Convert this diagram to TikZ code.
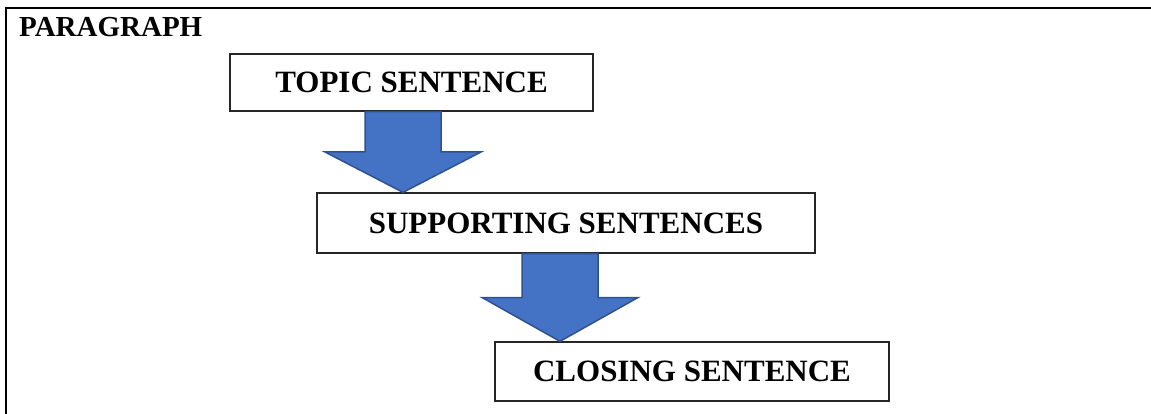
\documentclass[tikz,border=0pt]{standalone}
\usepackage{fontspec}
\setmainfont{Liberation Serif}
\usepackage{tikz}
\usetikzlibrary{calc}

\definecolor{arrowblue}{HTML}{4472C4}
\definecolor{arrowedge}{HTML}{2F528F}

\tikzset{
	sentbox/.style={draw=black!85, line width=1.3pt, inner sep=0pt,
		font=\fontsize{31}{37}\selectfont\bfseries},
	blockarrow/.style={fill=arrowblue, draw=arrowedge, line width=1.5pt, line join=miter},
}

% block arrow pointing down: x position, from node, to node
\newcommand{\blockdown}[3]{%
	\draw[blockarrow] let \p1=(#1,0 |- #2.south), \p2=(#1,0 |- #3.north) in
		(\x1-38pt,\y1) -- (\x1+38pt,\y1) -- (\x1+38pt,{(\y1+\y2)/2})
		-- (\x1+78pt,{(\y1+\y2)/2}) -- (\x1,\y2) -- (\x1-78pt,{(\y1+\y2)/2})
		-- (\x1-38pt,{(\y1+\y2)/2}) -- cycle;}

\begin{document}
\begin{tikzpicture}[x=1pt, y=-1pt]
	\useasboundingbox (0,0) rectangle (1151,414);
	%\draw[help lines] (0,0) grid[step=50] (1151,414);
	\draw[line width=2.5pt] (6,414) -- (6,8) -- (1151,8);
	\node[anchor=base west, inner sep=0pt, font=\fontsize{29}{35}\selectfont\bfseries] (title) at (19,37) {PARAGRAPH};
	\node[sentbox, minimum width=363pt, minimum height=57pt] (topic) at (411.5,82.5) {TOPIC SENTENCE};
	\node[sentbox, minimum width=498pt, minimum height=60pt] (support) at (566,223) {SUPPORTING SENTENCES};
	\node[sentbox, minimum width=394pt, minimum height=59pt] (closing) at (692,371.5) {CLOSING SENTENCE};
	\blockdown{403}{topic}{support}
	\blockdown{560}{support}{closing}
\end{tikzpicture}
\end{document}
